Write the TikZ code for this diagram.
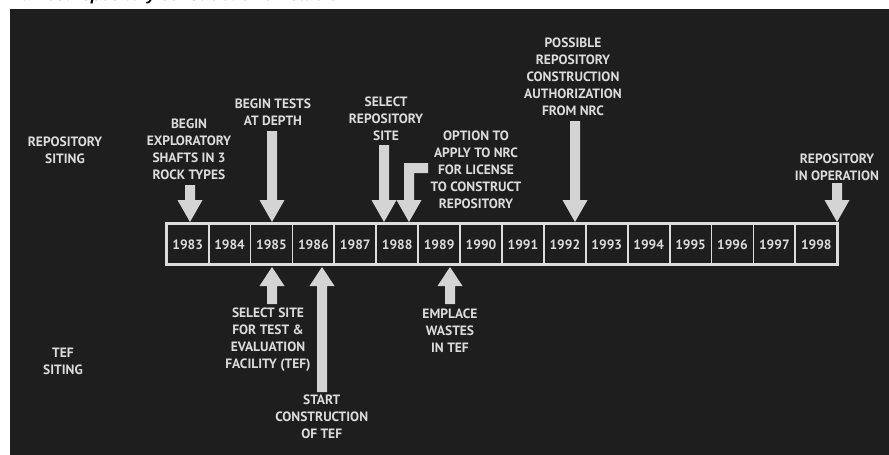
\documentclass[tikz,border=0pt]{standalone}
\usepackage{fontspec}
\setmainfont{PT Sans}
\newfontfamily\titlefont{Liberation Sans}
\usetikzlibrary{calc}
\definecolor{panel}{HTML}{1E1E1E}
\definecolor{ink}{HTML}{DCDCDC}
\definecolor{arrowc}{HTML}{D4D4D4}
\tikzset{
  lbl/.style={text=ink, font=\bfseries\fontsize{13.5}{17}\selectfont, align=center, inner sep=0pt, anchor=north},
  yr/.style={text=ink, font=\bfseries\fontsize{13.5}{16}\selectfont, inner sep=0pt},
  frame/.style={draw=ink, line width=2.5pt},
  divider/.style={draw=ink, line width=1.8pt},
  blockarrow/.style={fill=arrowc, draw=none},
}
% down arrow: x, ytop, ytip   (pixel coordinates, y downward)
\newcommand\dnarrow[3]{\fill[blockarrow] (#1-5,#2) -- (#1+5,#2) -- (#1+5,#3-22) -- (#1+12.5,#3-22) -- (#1,#3) -- (#1-12.5,#3-22) -- (#1-5,#3-22) -- cycle;}
% up arrow: x, ybottom, ytip
\newcommand\uparr[3]{\fill[blockarrow] (#1-5,#2) -- (#1+5,#2) -- (#1+5,#3+19) -- (#1+12.5,#3+19) -- (#1,#3) -- (#1-12.5,#3+19) -- (#1-5,#3+19) -- cycle;}
\begin{document}
\begin{tikzpicture}[x=1pt,y=-1pt]
\useasboundingbox (0,0) rectangle (889,455);
\clip (0,0) rectangle (889,455);
\fill[white] (0,0) rectangle (889,455);
\fill[panel] (10,8.5) rectangle (889,460);
% title (cut off at the top)
\node[anchor=base west, inner sep=0pt, font=\titlefont\bfseries\itshape\fontsize{16.5}{20}\selectfont] (title) at (11,1) {Earliest repository construction timetable.};

% timeline
\draw[frame] (166.7,223.3) rectangle (837.3,264.3);
\foreach \k in {1,...,15} {
  \draw[divider] ({166.7+41.91*\k},224) -- ({166.7+41.91*\k},263.5);
}
\foreach \y [count=\i from 0] in {1983,...,1998} {
  \node[yr] (y\y) at ({166.7+41.91*(\i+0.5)},245) {\y};
}

% side labels
\node[lbl] (rep) at (65,137) {REPOSITORY\\SITING};
\node[lbl] (tef) at (63,348) {TEF\\SITING};

% labels above
\node[lbl] (explor) at (189,118.5) {BEGIN\\EXPLORATORY\\SHAFTS IN 3\\ROCK TYPES};
\node[lbl] (tests) at (273,99) {BEGIN TESTS\\AT DEPTH};
\node[lbl] (selrep) at (386,97) {SELECT\\REPOSITORY\\SITE};
\node[lbl] (option) at (476,131) {OPTION TO\\APPLY TO NRC\\FOR LICENSE\\TO CONSTRUCT\\REPOSITORY};
\node[lbl] (auth) at (573,38) {POSSIBLE\\REPOSITORY\\CONSTRUCTION\\AUTHORIZATION\\FROM NRC};
\node[lbl] (oper) at (837,154) {REPOSITORY\\IN OPERATION};

% labels below
\node[lbl] (seltef) at (268,308) {SELECT SITE\\FOR TEST \&\\EVALUATION\\FACILITY (TEF)};
\node[lbl] (start) at (321.7,395) {START\\CONSTRUCTION\\OF TEF};
\node[lbl] (empl) at (450,308.5) {EMPLACE\\WASTES\\IN TEF};

% arrows down
\dnarrow{190}{185}{222}
\dnarrow{272}{131}{222}
\dnarrow{384}{145}{222}
\dnarrow{575}{121}{222}
\dnarrow{837}{183}{222}
% L-shaped arrow (option to apply)
\fill[blockarrow] (404,200) -- (404,163) -- (428,163) -- (428,173) -- (414,173) -- (414,200)
  -- (421.5,200) -- (409,222) -- (396.5,200) -- cycle;

% arrows up
\uparr{272}{304}{267}
\uparr{322}{392}{267}
\uparr{450}{304}{267}
\end{tikzpicture}
\end{document}
